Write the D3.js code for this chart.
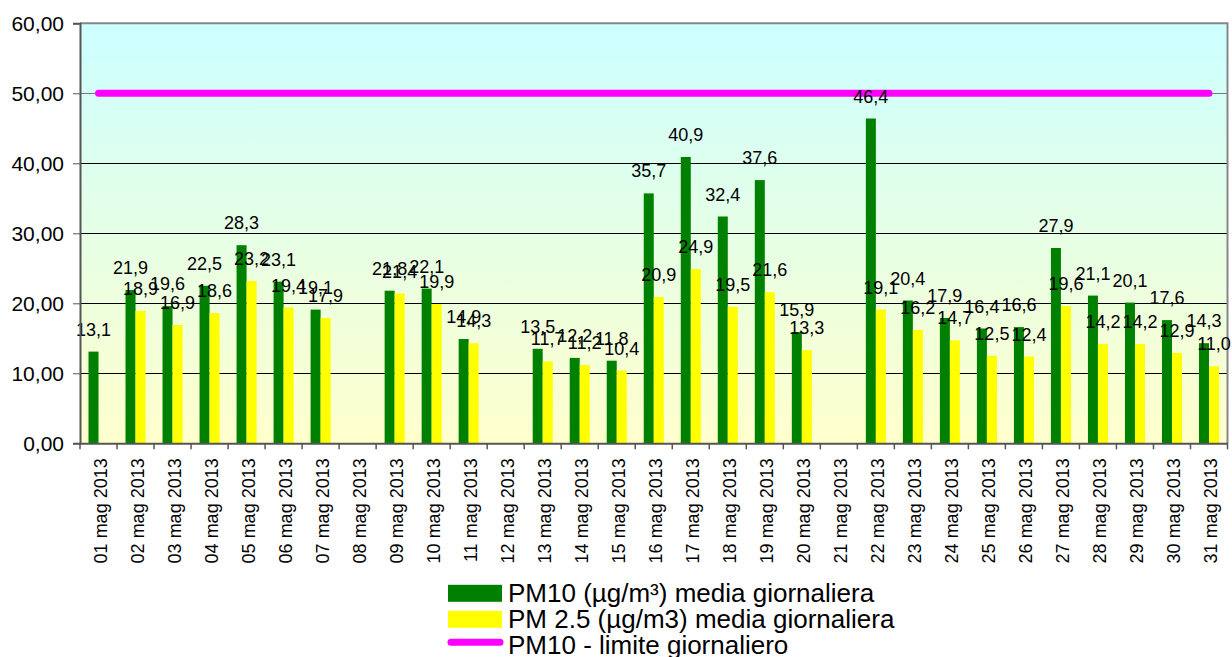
<!DOCTYPE html>
<html>
<head>
<meta charset="utf-8">
<script src="https://cdn.jsdelivr.net/npm/d3@7"></script>
<style>
  body { margin: 0; background: #fff; }
  svg { display: block; font-family: Arial, "Liberation Sans", sans-serif; }
</style>
</head>
<body>
<svg id="chart" width="1232" height="657"></svg>
<script>
// dati giornalieri maggio 2013
var giorni = ["01 mag 2013","02 mag 2013","03 mag 2013","04 mag 2013","05 mag 2013","06 mag 2013","07 mag 2013","08 mag 2013",
  "09 mag 2013","10 mag 2013","11 mag 2013","12 mag 2013","13 mag 2013","14 mag 2013","15 mag 2013","16 mag 2013",
  "17 mag 2013","18 mag 2013","19 mag 2013","20 mag 2013","21 mag 2013","22 mag 2013","23 mag 2013","24 mag 2013",
  "25 mag 2013","26 mag 2013","27 mag 2013","28 mag 2013","29 mag 2013","30 mag 2013","31 mag 2013"];
var pm10 = [13.1, 21.9, 19.6, 22.5, 28.3, 23.1, 19.1, null, 21.8, 22.1, 14.9, null, 13.5, 12.2, 11.8, 35.7,
  40.9, 32.4, 37.6, 15.9, null, 46.4, 20.4, 17.9, 16.4, 16.6, 27.9, 21.1, 20.1, 17.6, 14.3];
var pm25 = [null, 18.9, 16.9, 18.6, 23.2, 19.4, 17.9, null, 21.4, 19.9, 14.3, null, 11.7, 11.2, 10.4, 20.9,
  24.9, 19.5, 21.6, 13.3, null, 19.1, 16.2, 14.7, 12.5, 12.4, 19.6, 14.2, 14.2, 12.9, 11.0];
var limite = 50;
var yTicks = [0, 10, 20, 30, 40, 50, 60];
var serieNomi = ["PM10 (µg/m³) media giornaliera", "PM 2.5 (µg/m3) media giornaliera", "PM10 - limite giornaliero"];

var colori = ["#008000", "#ffff00", "#ff00ff"];
var pLeft = 80, pRight = 1227.5, pTop = 23.3, pBottom = 443.3;

var loc = d3.formatLocale({decimal: ",", thousands: ".", grouping: [3], currency: ["", "€"]});
var fmtAxis = loc.format(".2f");
var fmtLab = loc.format(".1f");

var svg = d3.select("#chart");

// sfondo sfumato
var defs = svg.append("defs");
var grad = defs.append("linearGradient").attr("id", "bg").attr("x1", 0).attr("y1", 0).attr("x2", 0).attr("y2", 1);
grad.append("stop").attr("offset", "0%").attr("stop-color", "#ccffff");
grad.append("stop").attr("offset", "100%").attr("stop-color", "#ffffcc");

var x = d3.scaleBand().domain(giorni).range([pLeft, pRight]).paddingInner(0).paddingOuter(0);
var xs = d3.scaleBand().domain(["pm10", "pm25"]).range([0, x.bandwidth()]).paddingInner(0).paddingOuter(0.85);
var y = d3.scaleLinear().domain([0, 60]).range([pBottom, pTop]);

svg.append("rect").attr("x", pLeft).attr("y", pTop).attr("width", pRight - pLeft).attr("height", pBottom - pTop)
  .attr("fill", "url(#bg)");

// griglia
svg.append("g").selectAll("line").data(yTicks.filter(function(d){ return d > 0 && d < 60; })).enter().append("line")
  .attr("x1", pLeft).attr("x2", pRight)
  .attr("y1", function(d){ return Math.round(y(d)) + 0.5; }).attr("y2", function(d){ return Math.round(y(d)) + 0.5; })
  .attr("stroke", function(d){ return d === limite ? "#777" : "#000"; }).attr("stroke-width", 1);

// bordo superiore e destro
svg.append("path").attr("d", "M" + pLeft + "," + pTop + "H" + pRight + "V" + pBottom)
  .attr("fill", "none").attr("stroke", "#878787").attr("stroke-width", 2);

// barre
var righe = giorni.map(function(g, i){ return {giorno: g, pm10: pm10[i], pm25: pm25[i]}; });
var serie = [{key: "pm10", col: colori[0]}, {key: "pm25", col: colori[1]}];
serie.forEach(function(s){
  var dati = righe.filter(function(r){ return r[s.key] != null; });
  svg.append("g").selectAll("rect").data(dati).enter().append("rect")
    .attr("x", function(r){ return x(r.giorno) + xs(s.key); })
    .attr("width", xs.bandwidth())
    .attr("y", function(r){ return y(r[s.key]); })
    .attr("height", function(r){ return pBottom - y(r[s.key]); })
    .attr("fill", s.col);
});

// linea limite
var linea = d3.line().x(function(g){ return x(g) + x.bandwidth() / 2; }).y(function(){ return y(limite); });
svg.append("path").datum([giorni[0], giorni[giorni.length - 1]]).attr("d", linea)
  .attr("fill", "none").attr("stroke", colori[2]).attr("stroke-width", 7).attr("stroke-linecap", "round");

// etichette valori
serie.forEach(function(s){
  var dati = righe.filter(function(r){ return r[s.key] != null; });
  svg.append("g").selectAll("text").data(dati).enter().append("text")
    .attr("x", function(r){ return x(r.giorno) + xs(s.key) + xs.bandwidth() / 2; })
    .attr("y", function(r){ return y(r[s.key]) - 16; })
    .attr("text-anchor", "middle").attr("font-size", 18).attr("fill", "#000")
    .text(function(r){ return fmtLab(r[s.key]); });
});

// asse Y
var yAxis = svg.append("g").attr("transform", "translate(" + pLeft + ",0)")
  .call(d3.axisLeft(y).tickValues(yTicks).tickFormat(fmtAxis).tickSize(7).tickPadding(9));
yAxis.select(".domain").attr("stroke", "#555").attr("stroke-width", 2);
yAxis.selectAll(".tick line").attr("stroke", "#555");
yAxis.selectAll("text").attr("font-size", 21).attr("fill", "#000").attr("font-family", "Arial, 'Liberation Sans', sans-serif");

// asse X
var xAxis = svg.append("g").attr("transform", "translate(0," + pBottom + ")")
  .call(d3.axisBottom(x).tickSize(0).tickPadding(0));
xAxis.select(".domain").attr("stroke", "#555").attr("stroke-width", 2);
xAxis.selectAll("text")
  .attr("font-size", 18).attr("fill", "#000").attr("font-family", "Arial, 'Liberation Sans', sans-serif")
  .attr("transform", "rotate(-90)").attr("text-anchor", "end")
  .attr("x", -15).attr("y", 2).attr("dy", "0.35em");
var confini = giorni.map(function(g){ return x(g); }).concat([pRight]);
xAxis.append("g").selectAll("line").data(confini).enter().append("line")
  .attr("x1", function(d){ return d; }).attr("x2", function(d){ return d; })
  .attr("y1", 0).attr("y2", 6).attr("stroke", "#555").attr("stroke-width", 1.5);

// legenda
var leg = svg.append("g").attr("transform", "translate(448,593.3)");
var voci = leg.selectAll("g").data(serieNomi).enter().append("g")
  .attr("transform", function(d, i){ return "translate(0," + (i * 26) + ")"; });
voci.each(function(d, i){
  var g = d3.select(this);
  if (i < 2) {
    g.append("rect").attr("x", 0).attr("y", -8.5).attr("width", 54).attr("height", 17).attr("fill", colori[i]);
  } else {
    g.append("line").attr("x1", 3).attr("x2", 52).attr("y1", -3).attr("y2", -3)
      .attr("stroke", colori[2]).attr("stroke-width", 7).attr("stroke-linecap", "round");
  }
  g.append("text").attr("x", 60).attr("y", 0).attr("dy", "0.35em").attr("font-size", 26).attr("fill", "#000").text(d);
});
</script>
</body>
</html>
